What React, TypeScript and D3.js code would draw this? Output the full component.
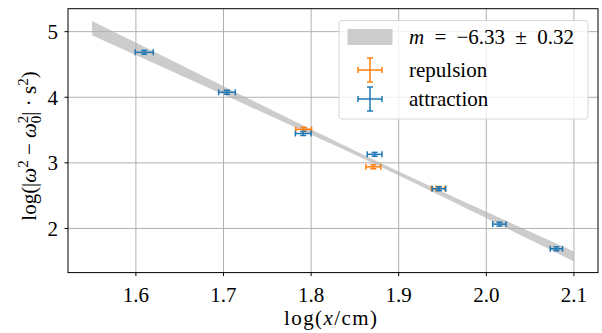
import React, { useEffect, useRef } from 'react';
import * as d3 from 'd3';

// measured points (log x, log |w^2 - w0^2|)
const attractionX = [1.6095, 1.704, 1.791, 1.8725, 1.946, 2.015, 2.08];
const attractionY = [4.685, 4.076, 3.447, 3.13, 2.605, 2.066, 1.69];
const attractionXErr = [0.0103, 0.0095, 0.009, 0.0084, 0.0077, 0.0076, 0.007];
const attractionYErr = [0.03, 0.03, 0.03, 0.03, 0.03, 0.03, 0.03];

const repulsionX = [1.7915, 1.871, 1.945];
const repulsionY = [3.51, 2.94, 2.61];
const repulsionXErr = [0.009, 0.0085, 0.0077];
const repulsionYErr = [0.03, 0.03, 0.03];

// linear fit: slope, its error, pivot point
const slope = -6.33;
const slopeErr = 0.32;
const pivotX = 1.88;
const pivotY = 2.965;
const pivotYErr = 0.03;
const fitRange = [1.55, 2.1];

const xTicks = [1.6, 1.7, 1.8, 1.9, 2.0, 2.1];
const yTicks = [2, 3, 4, 5];

const FONT = "'Liberation Serif'";

const App = () => {
  const ref = useRef<SVGSVGElement | null>(null);

  useEffect(() => {
    const width = 602;
    const height = 333;
    const left = 68, right = 598, top = 8.7, bottom = 272.6;
    const svg = d3.select(ref.current);
    svg.selectAll('*').remove();

    const x = d3.scaleLinear().domain([1.5225, 2.1275]).range([left, right]);
    const y = d3.scaleLinear().domain([1.327, 5.35]).range([bottom, top]);

    svg.attr('width', width).attr('height', height);

    // fit band
    const xs = d3.range(0, 61).map(i => fitRange[0] + (fitRange[1] - fitRange[0]) * i / 60);
    const half = (v: number) => Math.sqrt(pivotYErr ** 2 + (slopeErr * (v - pivotX)) ** 2);
    const mid = (v: number) => pivotY + slope * (v - pivotX);
    svg.append('path')
      .datum(xs)
      .attr('fill', '#cccccc')
      .attr('d', d3.area<number>()
        .x(d => x(d))
        .y0(d => y(mid(d) - half(d)))
        .y1(d => y(mid(d) + half(d))));

    // grid
    const grid = svg.append('g').attr('stroke', '#b0b0b0').attr('stroke-width', 1);
    grid.selectAll('line.gx').data(xTicks).enter().append('line')
      .attr('x1', d => x(d)).attr('x2', d => x(d)).attr('y1', top).attr('y2', bottom);
    grid.selectAll('line.gy').data(yTicks).enter().append('line')
      .attr('y1', d => y(d)).attr('y2', d => y(d)).attr('x1', left).attr('x2', right);

    // error bars
    const drawSeries = (xv: number[], yv: number[], xe: number[], ye: number[], color: string) => {
      const g = svg.append('g').attr('stroke', color).attr('stroke-width', 1.5).attr('fill', 'none');
      xv.forEach((xx, i) => {
        const cx = x(xx), cy = y(yv[i]);
        const x0 = x(xx - xe[i]), x1 = x(xx + xe[i]);
        const y0 = y(yv[i] - ye[i]), y1 = y(yv[i] + ye[i]);
        g.append('line').attr('x1', x0).attr('x2', x1).attr('y1', cy).attr('y2', cy);
        g.append('line').attr('x1', cx).attr('x2', cx).attr('y1', y0).attr('y2', y1);
        g.append('line').attr('x1', x0).attr('x2', x0).attr('y1', cy - 3).attr('y2', cy + 3);
        g.append('line').attr('x1', x1).attr('x2', x1).attr('y1', cy - 3).attr('y2', cy + 3);
        g.append('line').attr('x1', cx - 3).attr('x2', cx + 3).attr('y1', y0).attr('y2', y0);
        g.append('line').attr('x1', cx - 3).attr('x2', cx + 3).attr('y1', y1).attr('y2', y1);
      });
    };
    drawSeries(repulsionX, repulsionY, repulsionXErr, repulsionYErr, '#ff7f0e');
    drawSeries(attractionX, attractionY, attractionXErr, attractionYErr, '#1f77b4');

    // frame
    svg.append('rect')
      .attr('x', left).attr('y', top).attr('width', right - left).attr('height', bottom - top)
      .attr('fill', 'none').attr('stroke', 'black').attr('stroke-width', 1);

    // ticks
    const axes = svg.append('g').style('font-family', FONT).style('font-size', '21px').attr('fill', '#000');
    xTicks.forEach(t => {
      axes.append('line').attr('x1', x(t)).attr('x2', x(t)).attr('y1', bottom).attr('y2', bottom + 3.5)
        .attr('stroke', 'black');
      axes.append('text').attr('x', x(t)).attr('y', 302).attr('text-anchor', 'middle')
        .text(d3.format('.1f')(t));
    });
    yTicks.forEach(t => {
      axes.append('line').attr('x1', left - 3.5).attr('x2', left).attr('y1', y(t)).attr('y2', y(t))
        .attr('stroke', 'black');
      axes.append('text').attr('x', 58).attr('y', y(t)).attr('dy', '0.35em').attr('text-anchor', 'end')
        .text(t);
    });

    // x label
    const xl = axes.append('text').attr('x', 284).attr('y', 325)
      .attr('textLength', 93).attr('lengthAdjust', 'spacing');
    xl.append('tspan').text('log(');
    xl.append('tspan').attr('font-style', 'italic').text('x');
    xl.append('tspan').text('/cm)');

    // y label
    const yl = axes.append('text')
      .attr('transform', `translate(36,146) rotate(-90)`)
      .attr('text-anchor', 'middle');
    yl.append('tspan').text('log(|');
    yl.append('tspan').attr('font-style', 'italic').text('ω');
    yl.append('tspan').style('font-size', '15px').attr('dy', -8).text('2');
    yl.append('tspan').attr('dy', 8).text(' − ');
    yl.append('tspan').attr('font-style', 'italic').text('ω');
    yl.append('tspan').style('font-size', '15px').attr('dy', -8).text('2');
    yl.append('tspan').style('font-size', '15px').attr('dx', -7.5).attr('dy', 13).text('0');
    yl.append('tspan').attr('dy', -5).text('| · s');
    yl.append('tspan').style('font-size', '15px').attr('dy', -8).text('2');
    yl.append('tspan').attr('dy', 8).text(')');

    // legend
    const lg = svg.append('g').style('font-family', FONT).style('font-size', '21px');
    lg.append('rect').attr('x', 339).attr('y', 20.5).attr('width', 249).attr('height', 98.5)
      .attr('rx', 3).attr('fill', 'white').attr('fill-opacity', 0.8)
      .attr('stroke', '#d6d6d6').attr('stroke-width', 1);
    lg.append('rect').attr('x', 347.5).attr('y', 29).attr('width', 45).attr('height', 16).attr('fill', '#cccccc');
    const lt = lg.append('text').attr('x', 409).attr('y', 37).attr('dy', '0.35em')
      .style('word-spacing', '5px');
    lt.append('tspan').attr('font-style', 'italic').text('m');
    lt.append('tspan').text(' = −6.33 ± 0.32');

    const legendItems = [
      { label: 'repulsion', color: '#ff7f0e', cy: 70 },
      { label: 'attraction', color: '#1f77b4', cy: 99 },
    ];
    legendItems.forEach(it => {
      const g = lg.append('g').attr('stroke', it.color).attr('stroke-width', 1.5);
      const cx = 370;
      g.append('line').attr('x1', cx - 12).attr('x2', cx + 12).attr('y1', it.cy).attr('y2', it.cy);
      g.append('line').attr('x1', cx).attr('x2', cx).attr('y1', it.cy - 12).attr('y2', it.cy + 12);
      g.append('line').attr('x1', cx - 12).attr('x2', cx - 12).attr('y1', it.cy - 3).attr('y2', it.cy + 3);
      g.append('line').attr('x1', cx + 12).attr('x2', cx + 12).attr('y1', it.cy - 3).attr('y2', it.cy + 3);
      g.append('line').attr('x1', cx - 3).attr('x2', cx + 3).attr('y1', it.cy - 12).attr('y2', it.cy - 12);
      g.append('line').attr('x1', cx - 3).attr('x2', cx + 3).attr('y1', it.cy + 12).attr('y2', it.cy + 12);
      lg.append('text').attr('x', 409).attr('y', it.cy).attr('dy', '0.35em').text(it.label);
    });
  }, []);

  return (
    <svg ref={ref} style={{ position: 'absolute', left: 0, top: 0, display: 'block', background: 'white' }} />
  );
};

export default App;
